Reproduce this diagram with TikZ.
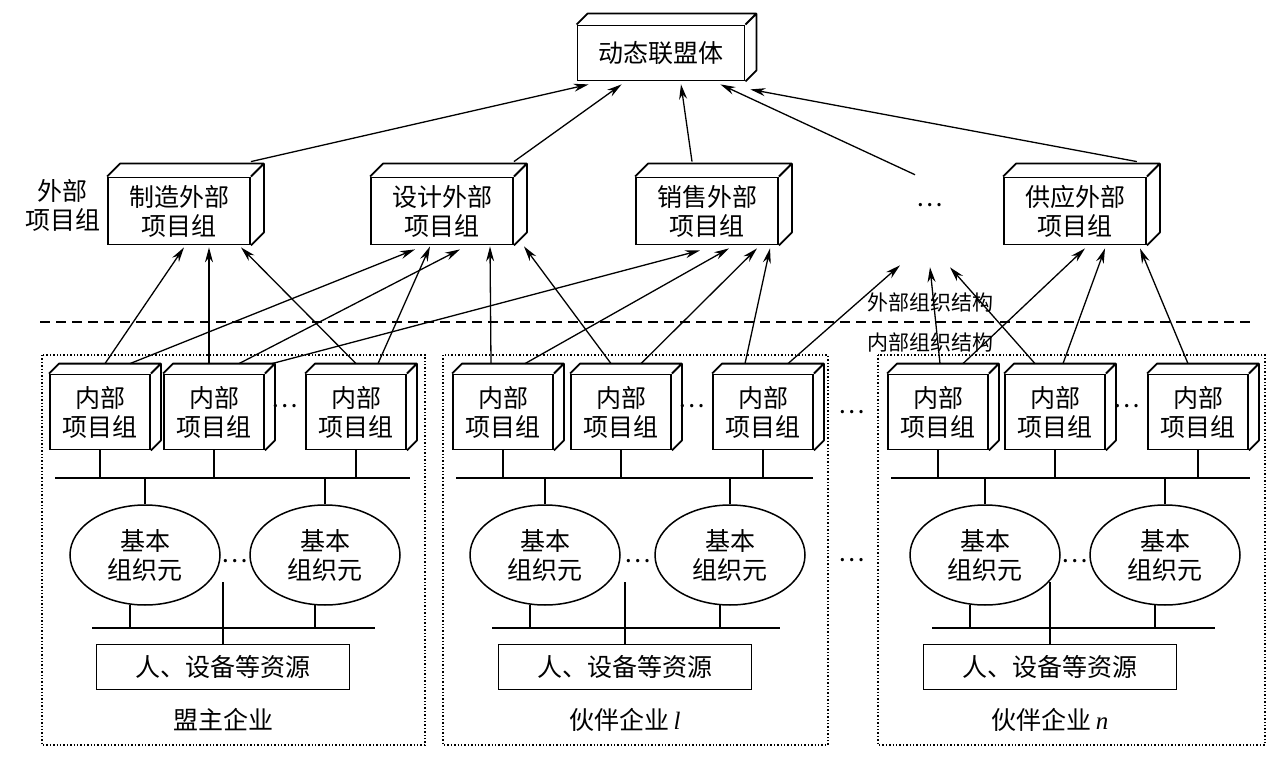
\documentclass[tikz,border=0pt]{standalone}
\usepackage{fontspec}
\setmainfont{Noto Sans CJK SC}
\newfontfamily\lat{Liberation Serif}
\usetikzlibrary{calc,arrows.meta,shapes.geometric}
\begin{document}
\begin{tikzpicture}[x=1pt,y=-1pt,
  every node/.style={font=\fontsize{25}{29}\selectfont,align=center},
  box/.style={draw,line width=1.8pt,inner sep=0pt},
  ext/.style={box,minimum width=142pt,minimum height=67pt},
  int/.style={box,minimum width=100pt,minimum height=75pt},
  ell/.style={draw,line width=1.5pt,ellipse,minimum width=150pt,minimum height=100pt,inner sep=0pt},
  res/.style={draw,line width=1.8pt,minimum width=253pt,minimum height=45pt},
  arr/.style={line width=1.3pt,-{Stealth[length=15pt,width=8pt]}},
  ln/.style={line width=1.3pt},
  grp/.style={draw,dotted,line width=1.4pt}]
\useasboundingbox (0,0) rectangle (1280,762);
\newcommand\depth[2]{\draw[line width=1.8pt,line join=round] (#1.north west) -- ++(#2,-#2) -- ($(#1.north east)+(#2,-#2)$) -- ($(#1.south east)+(#2,-#2)$) -- (#1.south east) (#1.north east) -- ++(#2,-#2);}
% top
\node[box,minimum width=167pt,minimum height=55pt] (top) at (661,53) {动态联盟体};
\depth{top}{11}
% external
\node[ext] (m) at (179,211) {制造外部\\项目组};
\node[ext] (d) at (442,211) {设计外部\\项目组};
\node[ext] (s) at (707,211) {销售外部\\项目组};
\node[ext] (g) at (1075,211) {供应外部\\项目组};
\foreach \n in {m,d,s,g}{\depth{\n}{13}}
\node (dots) at (930,205) {…};
\node[anchor=east] (wb) at (104,205) {外部\\项目组};
% arrows to top
\draw[arr] ($(m.north east)+(0,-15)$) -- ($(top.south west)+(12,3)$);
\draw[arr] ($(d.north east)+(0,-15)$) -- ($(top.south west)+(45,3)$);
\draw[arr] ($(s.north)+(-15,-15)$) -- ($(top.south)+(20,3)$);
\draw[arr] ($(dots.north)+(-15,-25)$) -- ($(top.south east)+(-25,3)$);
\draw[arr] ($(g.north east)+(-10,-15)$) -- ($(top.south east)+(5,8)$);
% dashed line
\draw[dashed,line width=1.5pt,dash pattern=on 10pt off 6pt] (40,322) -- (1255,322);
\node (lo) at (930,302) {\fontsize{21}{24}\selectfont 外部组织结构};
\node (li) at (930,342) {\fontsize{21}{24}\selectfont 内部组织结构};
% groups
\foreach \gx/\L/\bx/\by/\bz/\ea/\eb/\r/\name [count=\k] in
 {42/425/100/214/356/145/325/223/盟主企业,
  443/828/503/621/763/545/730/625/伙伴企业\,{\lat\itshape l},
  878/1265/938/1055/1198/985/1165/1050/伙伴企业\,{\lat\itshape n}}{
  \draw[grp] (\gx,355) rectangle (\L,745);
  \node[int] (i\k a) at (\bx,412) {内部\\项目组};
  \node[int] (i\k b) at (\by,412) {内部\\项目组};
  \node[int] (i\k c) at (\bz,412) {内部\\项目组};
  \depth{i\k a}{10}\depth{i\k b}{10}\depth{i\k c}{10}
  \node (p\k) at ($(i\k b.east)!0.5!(i\k c.west)+(0,-6)$) {…};
  \coordinate (bl\k) at (\gx+13,478);
  \coordinate (br\k) at (\L-15,478);
  \draw[ln] (bl\k) -- (br\k);
  \foreach \q in {a,b,c}{\draw[ln] (i\k\q.south) -- (i\k\q.south |- bl\k);}
  \node[ell] (e\k a) at (\ea,555) {基本\\组织元};
  \node[ell] (e\k b) at (\eb,555) {基本\\组织元};
  \node (q\k) at ($(e\k a.east)!0.5!(e\k b.west)+(0,6)$) {…};
  \draw[ln] (e\k a.north) -- (e\k a.north |- bl\k);
  \draw[ln] (e\k b.north) -- (e\k b.north |- bl\k);
  \node[res] (r\k) at (\r,667) {人、设备等资源};
  \coordinate (cl\k) at (\ea-53,628);
  \coordinate (cr\k) at (\eb+50,628);
  \draw[ln] (cl\k) -- (cr\k);
  \draw[ln] ($(e\k a.south)+(-15,-1)$) -- ($(e\k a.south |- cl\k)+(-15,0)$);
  \draw[ln] ($(e\k b.south)+(-10,-1)$) -- ($(e\k b.south |- cl\k)+(-10,0)$);
  \draw[ln] (r\k.north) -- ($(r\k.north)+(0,-62)$);
  \node (n\k) at (\r,720) {\name};
}
\node (gd1) at (852,412) {…};
\node (gd2) at (852,560) {…};
% internal -> external arrows
\draw[arr] ($(i1a.north)+(5,-10)$) -- ($(m.south)+(5,2)$);
\draw[arr] ($(i1b.north)+(-5,-10)$) -- ($(m.south)+(30,2)$);
\draw[arr] ($(i1c.north)+(0,-10)$) -- ($(m.south)+(62,2)$);
\draw[arr] ($(i1a.north)+(30,-10)$) -- ($(d.south)+(-27,4)$);
\draw[arr] ($(i1b.north)+(25,-10)$) -- ($(d.south)+(18,4)$);
\draw[arr] ($(i1b.north)+(58,-10)$) -- ($(s.south)+(-7,5)$);
\draw[arr] ($(i1c.north)+(22,-10)$) -- ($(d.south)+(-12,1)$);
\draw[arr] ($(i2a.north)+(-12,-10)$) -- ($(d.south)+(48,1)$);
\draw[arr] ($(i2b.north)+(-10,-10)$) -- ($(d.south)+(82,1)$);
\draw[arr] ($(i2a.north)+(22,-10)$) -- ($(s.south)+(22,3)$);
\draw[arr] ($(i2b.north)+(20,-10)$) -- ($(s.south)+(50,3)$);
\draw[arr] ($(i2c.north)+(-18,-10)$) -- ($(s.south)+(63,3)$);
\draw[arr] ($(i2c.north)+(25,-10)$) -- ($(dots.south)+(-30,55)$);
\draw[arr] ($(i3a.north)+(2,-10)$) -- ($(dots.south)+(0,57)$);
\draw[arr] ($(i3b.north)+(-20,-10)$) -- ($(dots.south)+(20,57)$);
\draw[arr] ($(i3a.north)+(25,-10)$) -- ($(g.south)+(10,3)$);
\draw[arr] ($(i3b.north)+(8,-10)$) -- ($(g.south)+(30,3)$);
\draw[arr] ($(i3c.north)+(-10,-10)$) -- ($(g.south)+(65,3)$);
\end{tikzpicture}
\end{document}
